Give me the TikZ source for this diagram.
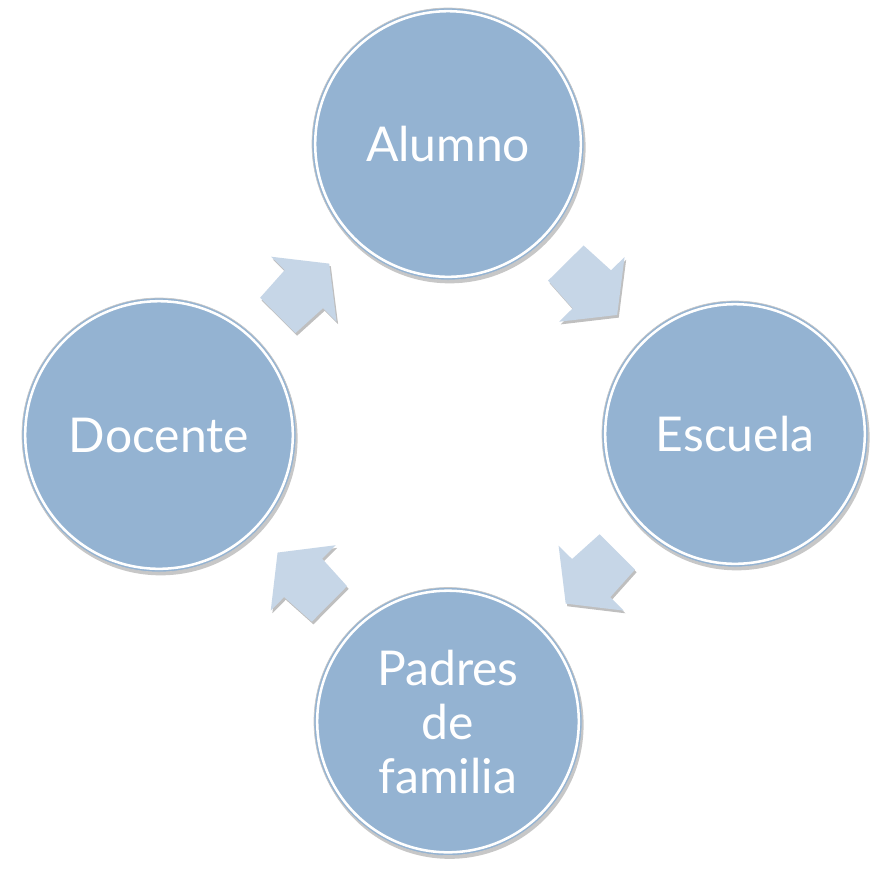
\documentclass[tikz,border=0pt]{standalone}
\usepackage{fontspec}
\setmainfont{Lato}
\usetikzlibrary{calc,shadows}
\definecolor{cfill}{HTML}{94B3D2}
\definecolor{carrow}{HTML}{C6D6E7}
\tikzset{
  bubble/.style={circle, fill=cfill, inner sep=0pt, text=white,
    font=\fontsize{36}{40.5}\selectfont, align=center,
    draw=black!22, line width=0.5pt,
    drop shadow={shadow xshift=1.2pt, shadow yshift=-2.5pt, opacity=0.22, fill=black}},
  gapring/.style={draw=white, line width=1.9pt},
  arrowshape/.style={fill=carrow,
    drop shadow={shadow xshift=1.2pt, shadow yshift=-2pt, opacity=0.25, fill=black}},
  blockarrow/.pic={
    \fill[arrowshape] (-36.5,25) -- (0.5,27) -- (0.5,46) -- (36.5,0)
      -- (0.5,-46) -- (0.5,-27) -- (-36.5,-25) -- cycle;
  }
}
\begin{document}
\begin{tikzpicture}[x=0.75pt, y=-0.75pt]
\fill[white] (0,0) rectangle (871,869);
\useasboundingbox (0,0) rectangle (871,869);

\node[bubble, minimum size=204pt] (alumno) at (448,144) {Alumno};
\node[bubble, minimum size=205.5pt] (docente) at (159,435) {Docente};
\node[bubble, minimum size=199.5pt] (escuela) at (735,434) {Escuela};
\node[bubble, minimum size=201pt] (padres) at (448,721.5) {Padres\\de\\familia};

\draw[gapring] (alumno.center) circle (132.8);
\draw[gapring] (docente.center) circle (133.8);
\draw[gapring] (escuela.center) circle (129.8);
\draw[gapring] (padres.center) circle (130.8);

\path let \p1=($(alumno)-(docente)$), \n1={atan2(\y1,\x1)} in
  pic[rotate=\n1] at ($(docente)!.5!(alumno)$) {blockarrow};
\path let \p1=($(escuela)-(alumno)$), \n1={atan2(\y1,\x1)} in
  pic[rotate=\n1] at ($(alumno)!.5!(escuela)$) {blockarrow};
\path let \p1=($(padres)-(escuela)$), \n1={atan2(\y1,\x1)} in
  pic[rotate=\n1] at ($(escuela)!.5!(padres)$) {blockarrow};
\path let \p1=($(docente)-(padres)$), \n1={atan2(\y1,\x1)} in
  pic[rotate=\n1] at ($(padres)!.5!(docente)$) {blockarrow};
\end{tikzpicture}
\end{document}
